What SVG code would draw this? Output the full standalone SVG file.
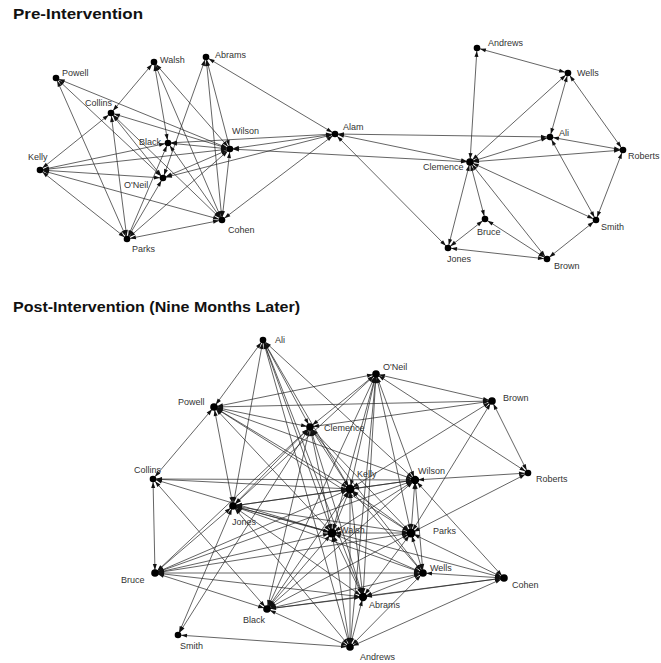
<svg xmlns="http://www.w3.org/2000/svg" width="661" height="663" viewBox="0 0 661 663">
<style>
.bg{fill:#fff}
.e{stroke:#222;stroke-width:0.7;fill:none;marker-start:url(#ah);marker-end:url(#ah)}
.n circle{fill:#000}
.n text{font-family:"Liberation Sans",Arial,sans-serif;font-size:9px;fill:#333}
.title{font-family:"Liberation Sans",Arial,sans-serif;font-weight:bold;font-size:15px;fill:#111}
</style>
<defs>
<marker id="ah" viewBox="0 0 6 4" markerWidth="6" markerHeight="4" refX="9" refY="2" orient="auto-start-reverse" markerUnits="userSpaceOnUse" overflow="visible"><path d="M0,0 L6,2 L0,4 z" fill="#111"/></marker>
</defs>
<rect class="bg" x="0" y="0" width="661" height="663"/>
<text class="title" x="13" y="19" textLength="130" lengthAdjust="spacingAndGlyphs">Pre-Intervention</text>
<text class="title" x="13" y="312" textLength="287" lengthAdjust="spacingAndGlyphs">Post-Intervention (Nine Months Later)</text>

<g id="pre-connectors">
<line class="e" x1="56" y1="78" x2="127" y2="239"/>
<line class="e" x1="56" y1="78" x2="230" y2="149"/>
<line class="e" x1="56" y1="78" x2="163" y2="178"/>
<line class="e" x1="111" y1="113" x2="154" y2="62"/>
<line class="e" x1="154" y1="62" x2="168" y2="143"/>
<line class="e" x1="154" y1="62" x2="222" y2="220"/>
<line class="e" x1="154" y1="62" x2="230" y2="149"/>
<line class="e" x1="206" y1="57" x2="163" y2="178"/>
<line class="e" x1="206" y1="57" x2="222" y2="220"/>
<line class="e" x1="206" y1="57" x2="230" y2="149"/>
<line class="e" x1="335" y1="134" x2="206" y2="57"/>
<line class="e" x1="40" y1="170" x2="111" y2="113"/>
<line class="e" x1="111" y1="113" x2="230" y2="149"/>
<line class="e" x1="111" y1="113" x2="127" y2="239"/>
<line class="e" x1="111" y1="113" x2="163" y2="178"/>
<line class="e" x1="111" y1="113" x2="222" y2="220"/>
<line class="e" x1="40" y1="170" x2="168" y2="143"/>
<line class="e" x1="40" y1="170" x2="230" y2="149"/>
<line class="e" x1="40" y1="170" x2="163" y2="178"/>
<line class="e" x1="40" y1="170" x2="222" y2="220"/>
<line class="e" x1="40" y1="170" x2="127" y2="239"/>
<line class="e" x1="230" y1="149" x2="168" y2="143"/>
<line class="e" x1="335" y1="134" x2="168" y2="143"/>
<line class="e" x1="127" y1="239" x2="168" y2="143"/>
<line class="e" x1="168" y1="143" x2="222" y2="220"/>
<line class="e" x1="163" y1="178" x2="230" y2="149"/>
<line class="e" x1="335" y1="134" x2="163" y2="178"/>
<line class="e" x1="127" y1="239" x2="163" y2="178"/>
<line class="e" x1="335" y1="134" x2="230" y2="149"/>
<line class="e" x1="230" y1="149" x2="222" y2="220"/>
<line class="e" x1="127" y1="239" x2="230" y2="149"/>
<line class="e" x1="230" y1="149" x2="470" y2="162"/>
<line class="e" x1="222" y1="220" x2="335" y2="134"/>
<line class="e" x1="127" y1="239" x2="222" y2="220"/>
<line class="e" x1="335" y1="134" x2="550" y2="137"/>
<line class="e" x1="335" y1="134" x2="470" y2="162"/>
<line class="e" x1="335" y1="134" x2="448" y2="248"/>
<line class="e" x1="477" y1="48" x2="568" y2="73"/>
<line class="e" x1="477" y1="48" x2="470" y2="162"/>
<line class="e" x1="470" y1="162" x2="568" y2="73"/>
<line class="e" x1="568" y1="73" x2="550" y2="137"/>
<line class="e" x1="568" y1="73" x2="623" y2="150"/>
<line class="e" x1="470" y1="162" x2="550" y2="137"/>
<line class="e" x1="550" y1="137" x2="623" y2="150"/>
<line class="e" x1="550" y1="137" x2="596" y2="220"/>
<line class="e" x1="470" y1="162" x2="623" y2="150"/>
<line class="e" x1="623" y1="150" x2="596" y2="220"/>
<line class="e" x1="470" y1="162" x2="596" y2="220"/>
<line class="e" x1="470" y1="162" x2="547" y2="259"/>
<line class="e" x1="470" y1="162" x2="485" y2="219"/>
<line class="e" x1="470" y1="162" x2="448" y2="248"/>
<line class="e" x1="596" y1="220" x2="547" y2="259"/>
<line class="e" x1="485" y1="219" x2="547" y2="259"/>
<line class="e" x1="448" y1="248" x2="547" y2="259"/>
<line class="e" x1="485" y1="219" x2="448" y2="248"/>
</g>

<g id="pre-powell" class="n"><circle cx="56" cy="78" r="3.3"/><text x="62" y="76">Powell</text></g>
<g id="pre-walsh" class="n"><circle cx="154" cy="62" r="3.3"/><text x="160" y="63">Walsh</text></g>
<g id="pre-abrams" class="n"><circle cx="206" cy="57" r="3.3"/><text x="215" y="58">Abrams</text></g>
<g id="pre-collins" class="n"><circle cx="111" cy="113" r="3.3"/><text x="85" y="106">Collins</text></g>
<g id="pre-black" class="n"><circle cx="168" cy="143" r="3.3"/><text x="139" y="145">Black</text></g>
<g id="pre-wilson" class="n"><circle cx="230" cy="149" r="3.3"/><text x="232" y="134">Wilson</text></g>
<g id="pre-kelly" class="n"><circle cx="40" cy="170" r="3.3"/><text x="28" y="160">Kelly</text></g>
<g id="pre-oneil" class="n"><circle cx="163" cy="178" r="3.3"/><text x="124" y="188">O'Neil</text></g>
<g id="pre-cohen" class="n"><circle cx="222" cy="220" r="3.3"/><text x="228" y="233">Cohen</text></g>
<g id="pre-parks" class="n"><circle cx="127" cy="239" r="3.3"/><text x="132" y="252">Parks</text></g>
<g id="pre-alam" class="n"><circle cx="335" cy="134" r="3.3"/><text x="343" y="130">Alam</text></g>
<g id="pre-andrews" class="n"><circle cx="477" cy="48" r="3.3"/><text x="488" y="46">Andrews</text></g>
<g id="pre-wells" class="n"><circle cx="568" cy="73" r="3.3"/><text x="577" y="76">Wells</text></g>
<g id="pre-ali" class="n"><circle cx="550" cy="137" r="3.3"/><text x="559" y="136">Ali</text></g>
<g id="pre-roberts" class="n"><circle cx="623" cy="150" r="3.3"/><text x="628" y="159">Roberts</text></g>
<g id="pre-clemence" class="n"><circle cx="470" cy="162" r="3.8"/><text x="423" y="170">Clemence</text></g>
<g id="pre-bruce" class="n"><circle cx="485" cy="219" r="3.3"/><text x="477" y="235">Bruce</text></g>
<g id="pre-smith" class="n"><circle cx="596" cy="220" r="3.3"/><text x="601" y="230">Smith</text></g>
<g id="pre-jones" class="n"><circle cx="448" cy="248" r="3.3"/><text x="447" y="262">Jones</text></g>
<g id="pre-brown" class="n"><circle cx="547" cy="259" r="3.3"/><text x="554" y="269">Brown</text></g>

<g id="post-connectors">
<line class="e" x1="263" y1="340" x2="214" y2="407"/>
<line class="e" x1="263" y1="340" x2="310" y2="427"/>
<line class="e" x1="263" y1="340" x2="233" y2="506"/>
<line class="e" x1="263" y1="340" x2="350" y2="489"/>
<line class="e" x1="263" y1="340" x2="332" y2="533"/>
<line class="e" x1="263" y1="340" x2="415" y2="480"/>
<line class="e" x1="263" y1="340" x2="363" y2="597"/>
<line class="e" x1="263" y1="340" x2="350" y2="647"/>
<line class="e" x1="214" y1="407" x2="376" y2="374"/>
<line class="e" x1="214" y1="407" x2="492" y2="401"/>
<line class="e" x1="214" y1="407" x2="310" y2="427"/>
<line class="e" x1="214" y1="407" x2="153" y2="479"/>
<line class="e" x1="214" y1="407" x2="233" y2="506"/>
<line class="e" x1="214" y1="407" x2="350" y2="489"/>
<line class="e" x1="214" y1="407" x2="332" y2="533"/>
<line class="e" x1="214" y1="407" x2="411" y2="533"/>
<line class="e" x1="214" y1="407" x2="415" y2="480"/>
<line class="e" x1="153" y1="479" x2="155" y2="573"/>
<line class="e" x1="153" y1="479" x2="350" y2="489"/>
<line class="e" x1="153" y1="479" x2="415" y2="480"/>
<line class="e" x1="153" y1="479" x2="332" y2="533"/>
<line class="e" x1="153" y1="479" x2="267" y2="609"/>
<line class="e" x1="155" y1="573" x2="233" y2="506"/>
<line class="e" x1="155" y1="573" x2="310" y2="427"/>
<line class="e" x1="155" y1="573" x2="350" y2="489"/>
<line class="e" x1="155" y1="573" x2="332" y2="533"/>
<line class="e" x1="155" y1="573" x2="415" y2="480"/>
<line class="e" x1="155" y1="573" x2="411" y2="533"/>
<line class="e" x1="155" y1="573" x2="423" y2="573"/>
<line class="e" x1="155" y1="573" x2="363" y2="597"/>
<line class="e" x1="155" y1="573" x2="267" y2="609"/>
<line class="e" x1="178" y1="635" x2="233" y2="506"/>
<line class="e" x1="178" y1="635" x2="310" y2="427"/>
<line class="e" x1="178" y1="635" x2="350" y2="647"/>
<line class="e" x1="267" y1="609" x2="310" y2="427"/>
<line class="e" x1="267" y1="609" x2="350" y2="489"/>
<line class="e" x1="267" y1="609" x2="332" y2="533"/>
<line class="e" x1="267" y1="609" x2="411" y2="533"/>
<line class="e" x1="267" y1="609" x2="423" y2="573"/>
<line class="e" x1="267" y1="609" x2="363" y2="597"/>
<line class="e" x1="267" y1="609" x2="350" y2="647"/>
<line class="e" x1="267" y1="609" x2="376" y2="374"/>
<line class="e" x1="350" y1="647" x2="363" y2="597"/>
<line class="e" x1="350" y1="647" x2="332" y2="533"/>
<line class="e" x1="350" y1="647" x2="350" y2="489"/>
<line class="e" x1="350" y1="647" x2="423" y2="573"/>
<line class="e" x1="350" y1="647" x2="504" y2="578"/>
<line class="e" x1="350" y1="647" x2="233" y2="506"/>
<line class="e" x1="350" y1="647" x2="376" y2="374"/>
<line class="e" x1="363" y1="597" x2="233" y2="506"/>
<line class="e" x1="363" y1="597" x2="332" y2="533"/>
<line class="e" x1="363" y1="597" x2="350" y2="489"/>
<line class="e" x1="363" y1="597" x2="411" y2="533"/>
<line class="e" x1="363" y1="597" x2="423" y2="573"/>
<line class="e" x1="363" y1="597" x2="504" y2="578"/>
<line class="e" x1="363" y1="597" x2="310" y2="427"/>
<line class="e" x1="363" y1="597" x2="376" y2="374"/>
<line class="e" x1="504" y1="578" x2="423" y2="573"/>
<line class="e" x1="504" y1="578" x2="411" y2="533"/>
<line class="e" x1="504" y1="578" x2="415" y2="480"/>
<line class="e" x1="504" y1="578" x2="233" y2="506"/>
<line class="e" x1="504" y1="578" x2="267" y2="609"/>
<line class="e" x1="423" y1="573" x2="411" y2="533"/>
<line class="e" x1="423" y1="573" x2="415" y2="480"/>
<line class="e" x1="423" y1="573" x2="332" y2="533"/>
<line class="e" x1="423" y1="573" x2="233" y2="506"/>
<line class="e" x1="423" y1="573" x2="350" y2="489"/>
<line class="e" x1="423" y1="573" x2="310" y2="427"/>
<line class="e" x1="411" y1="533" x2="492" y2="401"/>
<line class="e" x1="411" y1="533" x2="528" y2="473"/>
<line class="e" x1="411" y1="533" x2="415" y2="480"/>
<line class="e" x1="411" y1="533" x2="350" y2="489"/>
<line class="e" x1="411" y1="533" x2="332" y2="533"/>
<line class="e" x1="411" y1="533" x2="233" y2="506"/>
<line class="e" x1="411" y1="533" x2="376" y2="374"/>
<line class="e" x1="411" y1="533" x2="310" y2="427"/>
<line class="e" x1="415" y1="480" x2="528" y2="473"/>
<line class="e" x1="415" y1="480" x2="376" y2="374"/>
<line class="e" x1="415" y1="480" x2="350" y2="489"/>
<line class="e" x1="415" y1="480" x2="332" y2="533"/>
<line class="e" x1="415" y1="480" x2="233" y2="506"/>
<line class="e" x1="415" y1="480" x2="267" y2="609"/>
<line class="e" x1="528" y1="473" x2="492" y2="401"/>
<line class="e" x1="528" y1="473" x2="376" y2="374"/>
<line class="e" x1="492" y1="401" x2="376" y2="374"/>
<line class="e" x1="492" y1="401" x2="310" y2="427"/>
<line class="e" x1="492" y1="401" x2="350" y2="489"/>
<line class="e" x1="376" y1="374" x2="310" y2="427"/>
<line class="e" x1="376" y1="374" x2="350" y2="489"/>
<line class="e" x1="376" y1="374" x2="332" y2="533"/>
<line class="e" x1="376" y1="374" x2="233" y2="506"/>
<line class="e" x1="310" y1="427" x2="350" y2="489"/>
<line class="e" x1="310" y1="427" x2="332" y2="533"/>
<line class="e" x1="310" y1="427" x2="233" y2="506"/>
<line class="e" x1="350" y1="489" x2="233" y2="506"/>
<line class="e" x1="350" y1="489" x2="332" y2="533"/>
<line class="e" x1="332" y1="533" x2="233" y2="506"/>
</g>

<g id="post-ali" class="n"><circle cx="263" cy="340" r="3.3"/><text x="275" y="343">Ali</text></g>
<g id="post-oneil" class="n"><circle cx="376" cy="374" r="3.8"/><text x="383" y="370">O'Neil</text></g>
<g id="post-powell" class="n"><circle cx="214" cy="407" r="3.8"/><text x="178" y="405">Powell</text></g>
<g id="post-clemence" class="n"><circle cx="310" cy="427" r="3.8"/><text x="324" y="431">Clemence</text></g>
<g id="post-brown" class="n"><circle cx="492" cy="401" r="3.8"/><text x="503" y="401">Brown</text></g>
<g id="post-collins" class="n"><circle cx="153" cy="479" r="3.3"/><text x="134" y="473">Collins</text></g>
<g id="post-kelly" class="n"><circle cx="350" cy="489" r="4.5"/><text x="357" y="477">Kelly</text></g>
<g id="post-wilson" class="n"><circle cx="415" cy="480" r="4.2"/><text x="418" y="474">Wilson</text></g>
<g id="post-roberts" class="n"><circle cx="528" cy="473" r="3.3"/><text x="536" y="482">Roberts</text></g>
<g id="post-jones" class="n"><circle cx="233" cy="506" r="3.8"/><text x="232" y="525">Jones</text></g>
<g id="post-walsh" class="n"><circle cx="332" cy="533" r="4.5"/><text x="340" y="533">Walsh</text></g>
<g id="post-parks" class="n"><circle cx="411" cy="533" r="4.5"/><text x="433" y="534">Parks</text></g>
<g id="post-wells" class="n"><circle cx="423" cy="573" r="3.8"/><text x="430" y="571">Wells</text></g>
<g id="post-cohen" class="n"><circle cx="504" cy="578" r="3.8"/><text x="512" y="588">Cohen</text></g>
<g id="post-bruce" class="n"><circle cx="155" cy="573" r="3.8"/><text x="121" y="583">Bruce</text></g>
<g id="post-abrams" class="n"><circle cx="363" cy="597" r="4.2"/><text x="369" y="608">Abrams</text></g>
<g id="post-black" class="n"><circle cx="267" cy="609" r="3.8"/><text x="243" y="623">Black</text></g>
<g id="post-smith" class="n"><circle cx="178" cy="635" r="3.3"/><text x="180" y="649">Smith</text></g>
<g id="post-andrews" class="n"><circle cx="350" cy="647" r="3.8"/><text x="360" y="660">Andrews</text></g>
</svg>
